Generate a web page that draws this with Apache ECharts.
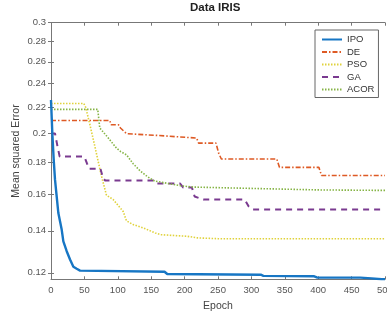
<!DOCTYPE html>
<html>
<head>
<meta charset="utf-8">
<script src="https://cdn.jsdelivr.net/npm/echarts@6/dist/echarts.min.js"></script>
<style>
  html, body { margin: 0; padding: 0; background: #fff; }
  #chart { width: 387px; height: 314px; }
</style>
</head>
<body>
<div id="chart"></div>
<script>
// convergence curves (epoch, mean squared error)
var ipoEpoch = [0, 2, 4, 6, 8.5, 11, 16, 18.5, 23.5, 28.5, 33.5, 38.5, 43.5, 170, 174, 314, 318, 394, 398, 463, 480, 495, 500]
var ipoMse = [0.226, 0.2, 0.182, 0.1688, 0.1588, 0.1494, 0.1406, 0.1347, 0.1299, 0.126, 0.1227, 0.1218, 0.121, 0.1205, 0.1195, 0.1192, 0.1187, 0.1185, 0.118, 0.1179, 0.1176, 0.1172, 0.1172]

var deEpoch = [0, 88, 90, 101, 104, 113, 160, 218, 221, 247, 251, 255, 338, 342, 401, 405, 500]
var deMse = [0.2097, 0.2097, 0.2064, 0.2064, 0.204, 0.1998, 0.1985, 0.1966, 0.193, 0.193, 0.186, 0.1821, 0.1821, 0.1766, 0.1766, 0.1714, 0.1714]

var psoEpoch = [0, 49, 52, 58, 66, 75, 83, 93, 108, 113, 123, 138, 156, 164, 204, 219, 250, 500]
var psoMse = [0.2232, 0.2232, 0.22, 0.207, 0.19, 0.172, 0.1595, 0.157, 0.1503, 0.1452, 0.1432, 0.1415, 0.1389, 0.138, 0.1372, 0.1364, 0.136, 0.136]

var gaEpoch = [0, 6, 10, 13, 50, 54, 57, 74, 78, 81, 153, 158, 193, 198, 211, 215, 228, 290, 296, 302, 500]
var gaMse = [0.2, 0.2, 0.19, 0.1837, 0.1837, 0.179, 0.1757, 0.1757, 0.1698, 0.1683, 0.1683, 0.1665, 0.1665, 0.164, 0.164, 0.1587, 0.157, 0.157, 0.153, 0.1513, 0.1513]

var acorEpoch = [0, 70, 73, 84, 98, 104, 113, 123, 133, 145, 155, 175, 194, 213, 300, 400, 500]
var acorMse = [0.2184, 0.2184, 0.204, 0.1977, 0.1895, 0.1872, 0.1849, 0.179, 0.1745, 0.1705, 0.168, 0.1665, 0.1651, 0.1643, 0.1635, 0.1626, 0.1623]

var yTicks = [0.12, 0.14, 0.16, 0.18, 0.2, 0.22, 0.24, 0.26, 0.28, 0.3]

function pairs(xs, ys) {
  return xs.map(function (x, i) { return [x, ys[i]] })
}

var font = 'Liberation Sans, Arial, sans-serif'
var axisColor = '#777'

var xBase = {
  type: 'value', min: 0, max: 500, interval: 50,
  axisLine: { show: true, lineStyle: { color: axisColor, width: 1 } },
  axisTick: { show: true, inside: true, length: 3, lineStyle: { color: axisColor } },
  splitLine: { show: false }
}
var yBase = {
  type: 'log', min: 0.1172, max: 0.3,
  axisLine: { show: true, lineStyle: { color: axisColor, width: 1 } },
  axisTick: { show: true, inside: true, length: 3, customValues: yTicks, lineStyle: { color: axisColor } },
  splitLine: { show: false },
  minorSplitLine: { show: false }
}

var myChart = echarts.init(document.getElementById('chart'))
myChart.setOption({
  animation: false,
  textStyle: { fontFamily: font },
  title: {
    text: 'Data IRIS', left: 190, top: 2, padding: 0,
    textStyle: { fontSize: 11.5, fontWeight: 'bold', color: '#222', fontFamily: font }
  },
  // outerBoundsMode none: keep the plot box where the figure has it, even if "500" spills over
  grid: { left: 51, right: 2, top: 22.7, bottom: 34.7, containLabel: false, outerBoundsMode: 'none' },
  legend: {
    orient: 'vertical', left: 315, top: 30,
    padding: [4.5, 4, 3, 6], itemWidth: 20, itemHeight: 9, itemGap: 2.5,
    backgroundColor: '#fff', borderColor: '#666', borderWidth: 1,
    itemStyle: { opacity: 0 },
    textStyle: { fontSize: 9.5, color: '#333', fontFamily: font },
    data: ['IPO', 'DE', 'PSO', 'GA', 'ACOR']
  },
  xAxis: [
    Object.assign({}, xBase, {
      position: 'bottom', name: 'Epoch', nameLocation: 'middle', nameGap: 17,
      nameTextStyle: { fontSize: 10.5, color: '#444', fontFamily: font },
      axisLabel: { fontSize: 9.5, color: '#555', margin: 6, fontFamily: font }
    }),
    Object.assign({}, xBase, { position: 'top', axisLabel: { show: false } })
  ],
  yAxis: [
    Object.assign({}, yBase, {
      position: 'left', name: 'Mean squared Error', nameLocation: 'middle', nameGap: 29.5,
      nameMoveOverlap: false,
      nameTextStyle: { fontSize: 10.5, color: '#444', fontFamily: font },
      axisLabel: {
        fontSize: 9.5, color: '#555', margin: 5, fontFamily: font,
        customValues: yTicks,
        formatter: function (v) { return String(+v.toFixed(2)) }
      }
    }),
    Object.assign({}, yBase, { position: 'right', axisLabel: { show: false } })
  ],
  series: [
    { name: 'IPO', type: 'line', symbol: 'none', color: '#1776C4',
      lineStyle: { width: 2.4 }, data: pairs(ipoEpoch, ipoMse), z: 5 },
    { name: 'DE', type: 'line', symbol: 'none', color: '#DE5A24',
      lineStyle: { width: 1.6, type: [5, 2, 1.5, 2] }, data: pairs(deEpoch, deMse) },
    { name: 'PSO', type: 'line', symbol: 'none', color: '#E0D23C',
      lineStyle: { width: 1.6, type: [1.5, 1.5] }, data: pairs(psoEpoch, psoMse) },
    { name: 'GA', type: 'line', symbol: 'none', color: '#7A3A90',
      lineStyle: { width: 2, type: [6, 5] }, data: pairs(gaEpoch, gaMse) },
    { name: 'ACOR', type: 'line', symbol: 'none', color: '#86B446',
      lineStyle: { width: 1.6, type: [1.5, 1.5] }, data: pairs(acorEpoch, acorMse) }
  ]
})
window.addEventListener('resize', () => { myChart.resize() })
</script>
</body>
</html>
